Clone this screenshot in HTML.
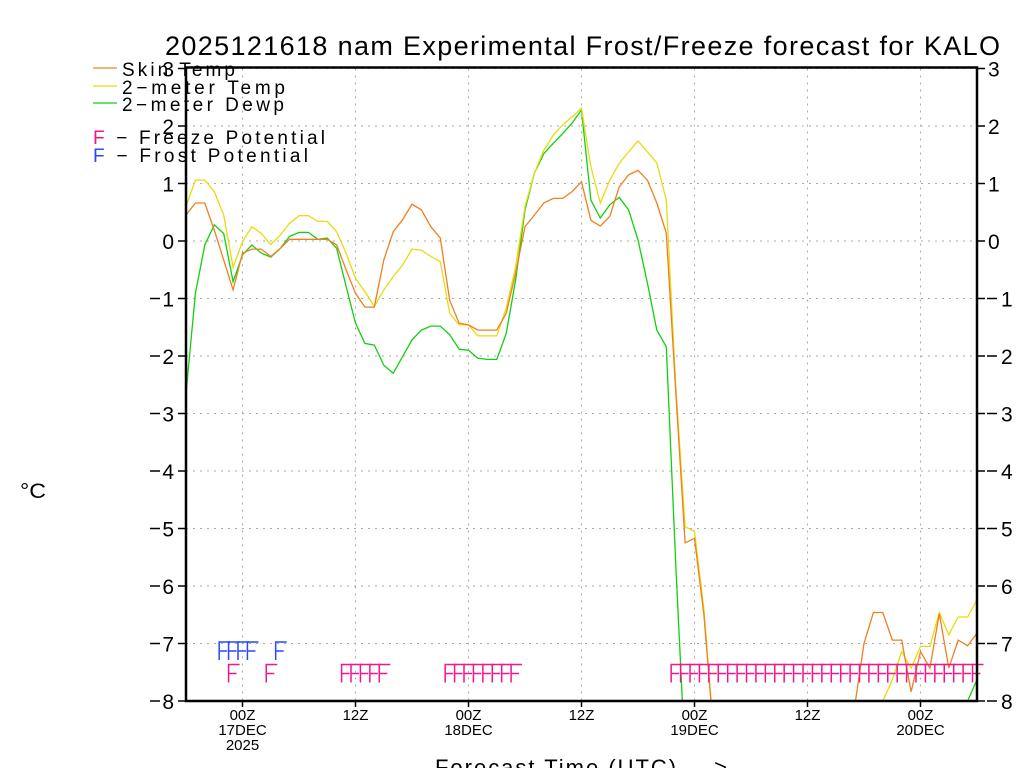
<!DOCTYPE html>
<html><head><meta charset="utf-8"><style>
body{margin:0;background:#fff;}
svg{display:block;font-family:"Liberation Sans",sans-serif;}
</style></head><body>
<svg id="chart" width="1024" height="768" viewBox="0 0 1024 768">
<text x="165" y="55" font-size="27" textLength="835" lengthAdjust="spacing">2025121618 nam Experimental Frost/Freeze forecast for KALO</text>
<g id="grid"></g>
<g id="series"></g>
<g id="flags"></g>
<g id="axes"></g>
<text x="20" y="498" font-size="21" textLength="26" lengthAdjust="spacingAndGlyphs">°C</text>
<text x="435" y="775" font-size="22" textLength="292" lengthAdjust="spacing">Forecast Time (UTC) ---&gt;</text>
<g font-size="19">
<line x1="93" y1="68" x2="117" y2="68" stroke="#f07f20" stroke-width="1.3"/>
<text x="122" y="76" textLength="113" lengthAdjust="spacing">Skin Temp</text>
<line x1="93" y1="86" x2="117" y2="86" stroke="#e6dc10" stroke-width="1.3"/>
<text x="122" y="94" textLength="163" lengthAdjust="spacing">2−meter Temp</text>
<line x1="93" y1="103" x2="117" y2="103" stroke="#10d010" stroke-width="1.3"/>
<text x="122" y="111" textLength="162" lengthAdjust="spacing">2−meter Dewp</text>
<text x="93" y="144" textLength="232" lengthAdjust="spacing"><tspan fill="#f0168c">F</tspan> − Freeze Potential</text>
<text x="93" y="162" textLength="215" lengthAdjust="spacing"><tspan fill="#2848ff">F</tspan> − Frost Potential</text>
</g>
</svg>
<script>
const hours=[];for(let i=0;i<=84;i++)hours.push(i);
const skinTemp=[0.45,0.66,0.66,0.19,-0.33,-0.85,-0.21,-0.14,-0.14,-0.27,-0.13,0.03,0.03,0.03,0.03,0.03,-0.07,-0.5,-0.91,-1.15,-1.15,-0.33,0.16,0.37,0.64,0.54,0.25,0.05,-1.03,-1.43,-1.46,-1.55,-1.55,-1.55,-1.26,-0.56,0.25,0.45,0.66,0.74,0.74,0.86,1.03,0.36,0.26,0.43,0.94,1.15,1.23,1.06,0.66,0.14,-2.6,-5.25,-5.17,-6.5,-8.5,-9,-9,-9,-9,-9,-9,-9,-9,-9,-9,-9,-9,-9,-9,-8.1,-7.0,-6.46,-6.46,-6.94,-6.94,-7.84,-7.14,-7.43,-6.48,-7.43,-6.94,-7.04,-6.82];
const airTemp=[0.6,1.06,1.06,0.86,0.45,-0.46,-0.01,0.25,0.13,-0.06,0.1,0.31,0.44,0.44,0.34,0.34,0.16,-0.21,-0.65,-0.88,-1.14,-0.85,-0.62,-0.42,-0.14,-0.16,-0.27,-0.36,-1.26,-1.46,-1.46,-1.65,-1.65,-1.65,-1.17,-0.45,0.6,1.18,1.58,1.84,2.02,2.16,2.31,1.29,0.66,1.06,1.35,1.55,1.74,1.55,1.36,0.71,-2.5,-4.97,-5.05,-6.4,-8.5,-9,-9,-9,-9,-9,-9,-9,-9,-9,-9,-9,-9,-9,-9,-9,-9,-8.5,-8.0,-7.63,-7.14,-7.43,-7.05,-7.05,-6.46,-6.85,-6.54,-6.54,-6.24];
const dewPoint=[-2.65,-0.91,-0.07,0.28,0.13,-0.71,-0.24,-0.07,-0.21,-0.28,-0.13,0.08,0.15,0.15,0.03,0.05,-0.13,-0.79,-1.43,-1.78,-1.81,-2.16,-2.3,-2.01,-1.72,-1.55,-1.48,-1.48,-1.63,-1.88,-1.9,-2.04,-2.06,-2.06,-1.61,-0.68,0.54,1.18,1.52,1.7,1.87,2.05,2.28,0.71,0.4,0.63,0.76,0.54,0.02,-0.73,-1.55,-1.84,-5.6,-9,-9,-9,-9,-9,-9,-9,-9,-9,-9,-9,-9,-9,-9,-9,-9,-9,-9,-9,-9,-9,-9,-9,-9,-9,-9,-9,-9,-9,-9,-8.0,-7.63];
const freezeHours=[5,9,17,18,19,20,21,28,29,30,31,32,33,34,35,52,53,54,55,56,57,58,59,60,61,62,63,64,65,66,67,68,69,70,71,72,73,74,75,76,77,78,79,80,81,82,83,84];
const frostHours=[4,5,6,7,10];
const yTicks=[3,2,1,0,-1,-2,-3,-4,-5,-6,-7,-8];
const xTickHours=[6,18,30,42,54,66,78];
const xTickLabels=["00Z","12Z","00Z","12Z","00Z","12Z","00Z"];
const xTickDates=["17DEC","","18DEC","","19DEC","","20DEC"];

const X0=186,X1=977,Y0=68.5,Y1=701,VMAX=3,VMIN=-8,HMAX=84;
const xs=h=>X0+(h/HMAX)*(X1-X0);
const ys=v=>Y0+(VMAX-v)/(VMAX-VMIN)*(Y1-Y0);
const NS="http://www.w3.org/2000/svg";
function mk(tag,parent,attrs){const e=document.createElementNS(NS,tag);for(const k in attrs)e.setAttribute(k,attrs[k]);parent.appendChild(e);return e;}
const grid=document.getElementById('grid'),axes=document.getElementById('axes'),series=document.getElementById('series'),flags=document.getElementById('flags');
yTicks.forEach(v=>{
  const y=ys(v);
  const g=mk('line',grid,{x1:X0,x2:X1,y1:y,y2:y,stroke:'#aaa','stroke-dasharray':'2,5'});
  
  
  const t1=mk('line',axes,{x1:X0-8,x2:X0,y1:y,y2:y,stroke:'#000','stroke-width':1.5});
  
  
  const t2=mk('line',axes,{x1:X1,x2:X1+8,y1:y,y2:y,stroke:'#000','stroke-width':1.5});
  
  
  const num=String(Math.abs(v));
  const l=mk('text',axes,{x:X0-12,y:y+8,'font-size':21,'text-anchor':'end'});l.textContent=num;
  
  
  if(v<0){const m=mk('line',axes,{x1:X0-36,x2:X0-26,y1:y,y2:y,stroke:'#000','stroke-width':1.5});
  
  }
  const r=mk('text',axes,{x:X1+11+(v<0?13:0),y:y+8,'font-size':21}); r.textContent=num;
  
  
  if(v<0){const m2=mk('line',axes,{x1:X1+10,x2:X1+20,y1:y,y2:y,stroke:'#000','stroke-width':1.5});
  
  }
});
xTickHours.forEach((h,i)=>{
  const x=xs(h);
  const g=mk('line',grid,{x1:x,x2:x,y1:Y0,y2:Y1,stroke:'#aaa','stroke-dasharray':'2,5'});
  
  
  const t=mk('line',axes,{x1:x,x2:x,y1:Y1,y2:Y1+6,stroke:'#000','stroke-width':1.5});
  
  
  const l=mk('text',axes,{x:x,y:720,'font-size':15,'text-anchor':'middle'});l.textContent=xTickLabels[i];
  
  
  if(xTickDates[i]){const d=mk('text',axes,{x:x,y:735,'font-size':15,'text-anchor':'middle'});d.textContent=xTickDates[i];
  
  }
  if(i===0){const yr=mk('text',axes,{x:x,y:750,'font-size':15,'text-anchor':'middle'});yr.textContent='2025';
  
  }
});
const clip=mk('clipPath',series,{id:'pc'});mk('rect',clip,{x:X0,y:Y0,width:X1-X0,height:Y1-Y0});
function line(data,color,name){
  const pts=data.map((v,i)=>xs(hours[i]).toFixed(1)+','+ys(v).toFixed(1)).join(' ');
  const p=mk('polyline',series,{points:pts,fill:'none',stroke:color,'stroke-width':1.3,'clip-path':'url(#pc)'});
  
  
}
line(dewPoint,'#10d010','dewpoint-line');
line(airTemp,'#e6dc10','2m-temp-line');
line(skinTemp,'#f07f20','skin-temp-line');
function flag(h,color,yTop,name){
  const x=xs(h)-4.5;
  const p=mk('path',flags,{d:`M${x} ${yTop+18}V${yTop}H${x+11}M${x} ${yTop+9}H${x+8}`,stroke:color,'stroke-width':1.5,fill:'none'});
  
  
}
freezeHours.forEach(h=>flag(h,'#f0168c',664.5,'freeze-flag'));
frostHours.forEach(h=>flag(h,'#2848ff',642,'frost-flag'));
const fr=mk('rect',axes,{x:X0,y:Y0-1,width:X1-X0,height:Y1-Y0+1,fill:'none',stroke:'#000','stroke-width':2.5});


</script>
</body></html>
